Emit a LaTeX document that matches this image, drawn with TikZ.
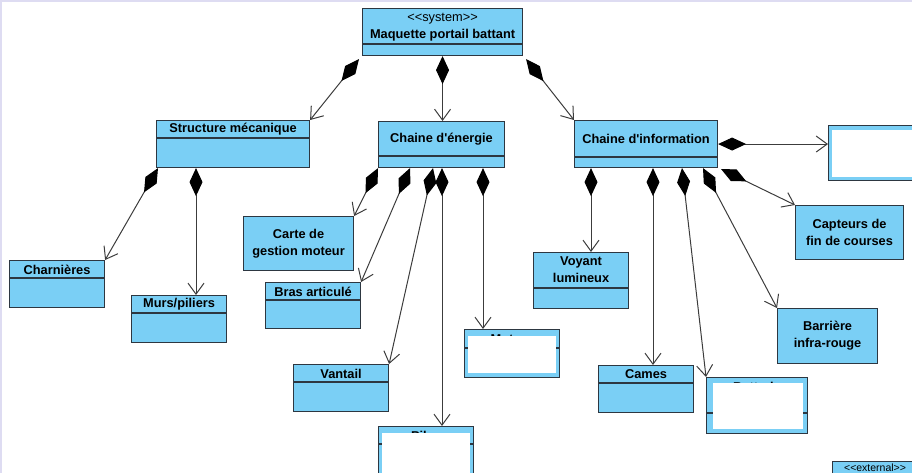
\documentclass[tikz,border=0pt]{standalone}
\usepackage{fontspec}
\setmainfont{Liberation Sans}
\usetikzlibrary{arrows.meta}
\definecolor{umlblue}{RGB}{122,207,245}
\definecolor{framec}{RGB}{45,55,65}
\definecolor{linec}{RGB}{60,60,60}
\definecolor{lavender}{RGB}{222,220,242}
\newcommand{\guil}[1]{<\kern0pt<#1>\kern0pt>}

\begin{document}
\begin{tikzpicture}[
  x=1pt,y=-1pt,
  cls/.style={draw=framec,fill=umlblue,line width=1.1pt,anchor=north west,inner sep=0pt},
  lbl/.style={font=\fontsize{12.8}{17}\selectfont\bfseries,align=center,inner sep=0pt},
  stereo/.style={font=\fontsize{12.8}{15}\selectfont,inner sep=0pt},
  sep/.style={draw=framec,line width=1.1pt},
  hide/.style={fill=white,draw=none},
  comp/.style={draw=linec,line width=1pt,
    {Diamond[length=28pt,width=13pt,color=black]}-{Straight Barb[length=11pt,width=16pt]}}
]
\useasboundingbox (0,0) rectangle (912,473);
\clip (0,0) rectangle (912,473);
\fill[lavender] (0,0) rectangle (912,2);
\fill[lavender] (0,0) rectangle (2,473);

% system
\node[cls,minimum width=160pt,minimum height=47pt] (sys) at (362,8) {};
\node[stereo] at ([yshift=-11pt]sys.north) {\guil{system}};
\node[lbl] at ([yshift=-27pt]sys.north) {Maquette portail battant};
\draw[sep] ([yshift=-36pt]sys.north west) -- ([yshift=-36pt]sys.north east);

% sous-ensembles
\node[cls,minimum width=153pt,minimum height=47pt] (sm) at (156,120) {};
\node[lbl] at ([yshift=-9.5pt]sm.north) {Structure mécanique};
\draw[sep] ([yshift=-18pt]sm.north west) -- ([yshift=-18pt]sm.north east);

\node[cls,minimum width=126pt,minimum height=46pt] (en) at (378,121) {};
\node[lbl] at ([yshift=-18pt]en.north) {Chaine d\textquotesingle énergie};
\draw[sep] ([yshift=-35pt]en.north west) -- ([yshift=-35pt]en.north east);

\node[cls,minimum width=143pt,minimum height=47pt] (inf) at (574,120) {};
\node[lbl] at ([yshift=-19pt]inf.north) {Chaine d\textquotesingle information};
\draw[sep] ([yshift=-37pt]inf.north west) -- ([yshift=-37pt]inf.north east);

\node[cls,minimum width=100pt,minimum height=55pt] (ext) at (828,125) {};
\fill[hide] (832,130) rectangle (912,177);

% structure
\node[cls,minimum width=95pt,minimum height=47pt] (ch) at (9,260) {};
\node[lbl] at ([yshift=-9.5pt]ch.north) {Charnières};
\draw[sep] ([yshift=-18pt]ch.north west) -- ([yshift=-18pt]ch.north east);

\node[cls,minimum width=95pt,minimum height=47pt] (mp) at (131,295) {};
\node[lbl] at ([yshift=-9.5pt]mp.north) {Murs/piliers};
\draw[sep] ([yshift=-18pt]mp.north west) -- ([yshift=-18pt]mp.north east);

% energie
\node[cls,minimum width=110pt,minimum height=54pt] (carte) at (243,216) {};
\node[lbl] at (carte.center) {Carte de\\gestion moteur};

\node[cls,minimum width=95pt,minimum height=46pt] (bras) at (265,282) {};
\node[lbl] at ([yshift=-9.5pt]bras.north) {Bras articulé};
\draw[sep] ([yshift=-18pt]bras.north west) -- ([yshift=-18pt]bras.north east);

\node[cls,minimum width=95pt,minimum height=47pt] (vant) at (293,364) {};
\node[lbl] at ([yshift=-9.5pt]vant.north) {Vantail};
\draw[sep] ([yshift=-18pt]vant.north west) -- ([yshift=-18pt]vant.north east);

\node[cls,minimum width=95pt,minimum height=60pt] (piles) at (378,426) {};
\node[lbl] at ([yshift=-10pt]piles.north) {Piles};
\draw[sep] ([yshift=-18pt]piles.north west) -- ([yshift=-18pt]piles.north east);
\fill[hide] (382,433) rectangle (470,480);

\node[cls,minimum width=95pt,minimum height=48pt] (mot) at (464,329) {};
\node[lbl] at ([yshift=-10pt]mot.north) {Moteur};
\draw[sep] ([yshift=-19pt]mot.north west) -- ([yshift=-19pt]mot.north east);
\fill[hide] (468,336) rectangle (556,373);

% information
\node[cls,minimum width=95pt,minimum height=56pt] (voy) at (533,252) {};
\node[lbl] at ([yshift=-18pt]voy.north) {Voyant\\lumineux};
\draw[sep] ([yshift=-36pt]voy.north west) -- ([yshift=-36pt]voy.north east);

\node[cls,minimum width=95pt,minimum height=47pt] (cames) at (598,365) {};
\node[lbl] at ([yshift=-9.5pt]cames.north) {Cames};
\draw[sep] ([yshift=-18pt]cames.north west) -- ([yshift=-18pt]cames.north east);

\node[cls,minimum width=101pt,minimum height=56pt] (batt) at (706,377) {};
\node[lbl] at ([yshift=-10pt]batt.north) {Batterie};
\draw[sep] ([yshift=-36pt]batt.north west) -- ([yshift=-36pt]batt.north east);
\fill[hide] (713,383) rectangle (803,429);

\node[cls,minimum width=100pt,minimum height=55pt] (barr) at (777,308) {};
\node[lbl] at (barr.center) {Barrière\\infra-rouge};

\node[cls,minimum width=108pt,minimum height=54pt] (capt) at (795,205) {};
\node[lbl] at (capt.center) {Capteurs de\\fin de courses};

\node[cls,minimum width=85pt,minimum height=20pt] (extn) at (832,461) {};
\node[stereo,font=\fontsize{10.5}{12}\selectfont] at ([yshift=-6.5pt]extn.north) {\guil{external}};

% compositions
\draw[comp] ([xshift=-3pt,yshift=-3pt]sys.south west) -- (sm.north east);
\draw[comp] (sys.south) -- (sys.south |- en.north);
\draw[comp] ([xshift=3pt,yshift=-3pt]sys.south east) -- (inf.north west);

\coordinate (sm1) at ([xshift=2pt]sm.south west);
\coordinate (sm2) at ([xshift=40pt]sm.south west);
\draw[comp] (sm1) -- (ch.north east);
\draw[comp] (sm2) -- (sm2 |- mp.north);

\coordinate (en2) at ([xshift=32pt]en.south west);
\coordinate (en3) at ([xshift=55pt]en.south west);
\coordinate (en4) at ([xshift=64pt]en.south west);
\coordinate (en5) at ([xshift=105pt]en.south west);
\draw[comp] (en.south west) -- (carte.north east);
\draw[comp] (en2) -- (bras.north east);
\draw[comp] (en3) -- (vant.north east);
\draw[comp] (en4) -- (en4 |- piles.north);
\draw[comp] (en5) -- (en5 |- mot.north);

\coordinate (inf1) at ([xshift=17pt]inf.south west);
\coordinate (inf2) at ([xshift=79pt]inf.south west);
\coordinate (inf3) at ([xshift=108pt]inf.south west);
\coordinate (inf4) at ([xshift=129pt]inf.south west);
\coordinate (inf5) at ([xshift=3pt,yshift=-1pt]inf.south east);
\draw[comp] (inf1) -- (inf1 |- voy.north);
\draw[comp] (inf2) -- (inf2 |- cames.north);
\draw[comp] (inf3) -- (batt.north west);
\draw[comp] (inf4) -- (barr.north west);
\draw[comp] (inf5) -- (capt.north west);
\draw[comp] (inf.east) -- (inf.east -| ext.west);
\end{tikzpicture}
\end{document}
